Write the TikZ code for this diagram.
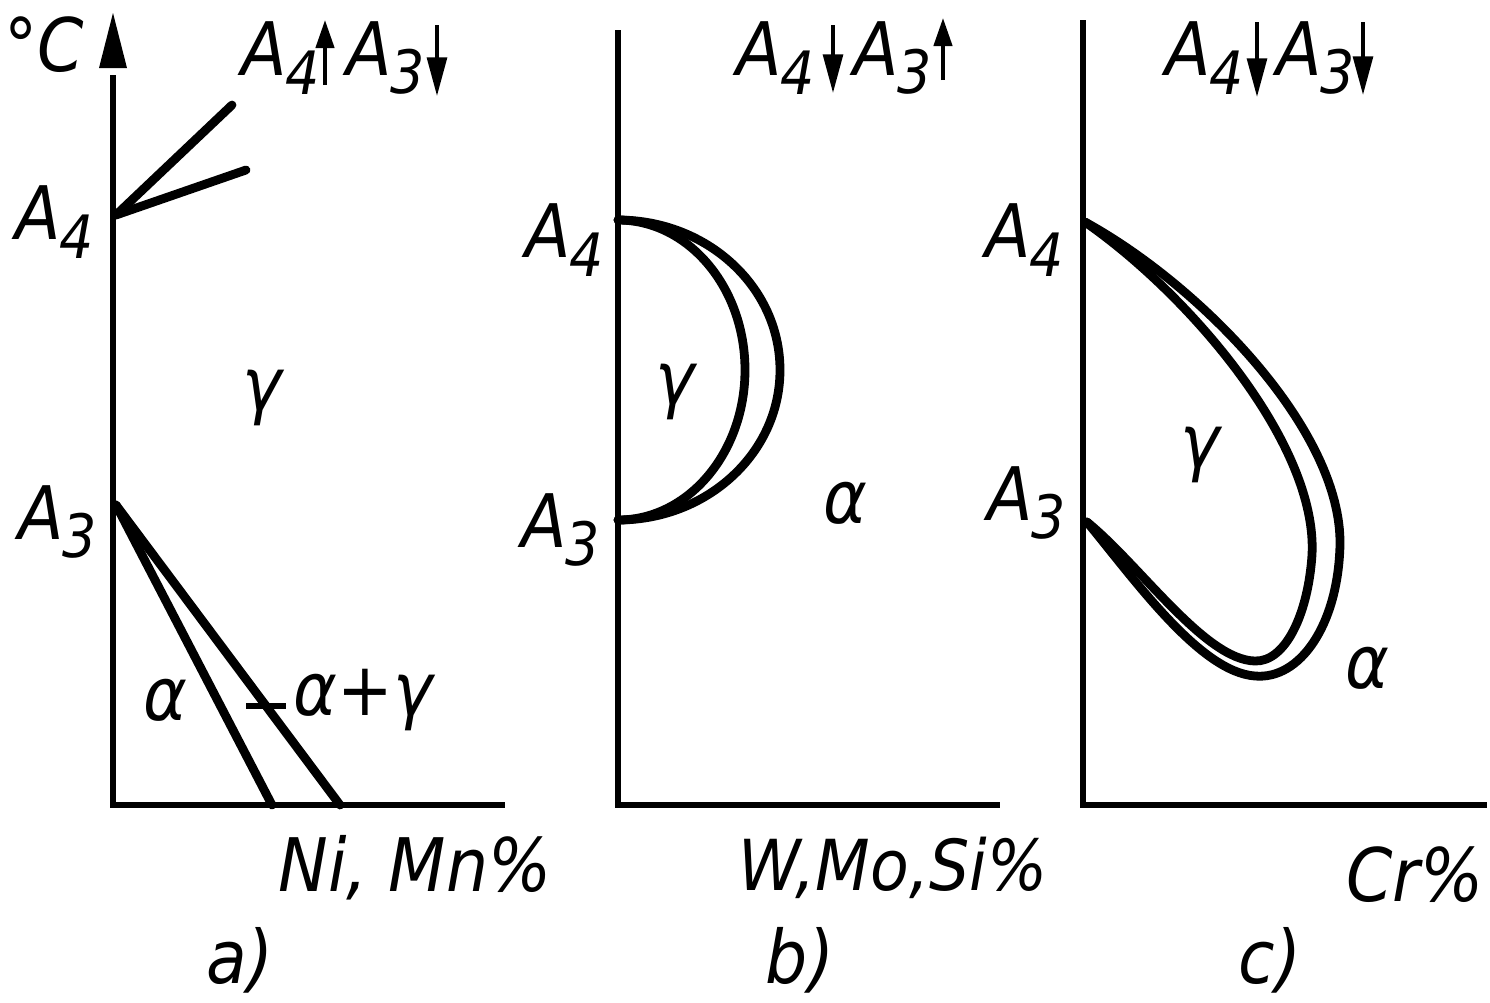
\documentclass[tikz,border=0pt]{standalone}
\usepackage{fontspec}
\setmainfont{DejaVu Sans Condensed}
\usetikzlibrary{arrows.meta}
\newcommand\Asb[1]{A\kern-0.02em\raisebox{-0.45ex}{\fontsize{17}{17}\selectfont #1}}
\begin{document}
\begin{tikzpicture}[x=0.01cm,y=-0.01cm,
  axis/.style={line width=1.8pt},
  phase/.style={line width=2.5pt, line cap=round, line join=round},
  lbl/.style={font=\fontsize{21}{24}\selectfont\itshape, inner sep=0pt},
  hdup/.style={line width=1.1pt, -{Triangle[length=8pt,width=5.2pt]}},
  hddn/.style={line width=1.1pt, -{Triangle[length=11pt,width=5.6pt]}}]
\useasboundingbox (0,0) rectangle (1490,1002);
% ---------------- panel a ----------------
\coordinate (aO) at (113,805);
\coordinate (aT) at (113,75);
\coordinate (aX) at (505,805);
\coordinate (aA4) at (116,215);
\coordinate (aA3) at (116,505);
\coordinate (aL1) at (232,105);
\coordinate (aL2) at (246,170);
\coordinate (aB1) at (272,805);
\coordinate (aB2) at (340,805);
\draw[axis] (aT) -- (aO) -- (aX);
\fill (99,68) -- (127,68) -- (113,13) -- cycle;
\draw[phase] (aA4) -- (aL1);
\draw[phase] (aA4) -- (aL2);
\draw[phase] (aA3) -- (aB1);
\draw[phase] (aA3) -- (aB2);
\node[lbl] (aC) at (44,45) {°C};
\node[lbl] (aH1) at (281,58) {\Asb{4}};
\draw[hdup] (325,85) -- (325,20);
\node[lbl] (aH2) at (386,58) {\Asb{3}};
\draw[hddn] (437,25) -- (437,96);
\node[lbl] (aYA4) at (55,222) {\Asb{4}};
\node[lbl] (aYA3) at (58,522) {\Asb{3}};
\node[lbl] (aG) at (262,398) {γ};
\node[lbl] (aAl) at (165,700) {α};
\node[lbl] (aAG) at (363,700) {α+γ};
\coordinate (aD1) at (246,706);
\coordinate (aD2) at (286,706);
\draw[line width=1.6pt] (aD1) -- (aD2);
\node[lbl] (aXl) at (415,868) {Ni, Mn\%};
\node[lbl] (aCap) at (240,960) {a)};
% ---------------- panel b ----------------
\coordinate (bO) at (618,805);
\coordinate (bT) at (618,30);
\coordinate (bX) at (1000,805);
\coordinate (bA4) at (618,220);
\coordinate (bA3) at (618,520);
\draw[axis] (bT) -- (bO) -- (bX);
\draw[phase] (bA4) arc[start angle=-90,end angle=90,x radius=127,y radius=150];
\draw[phase] (bA4) arc[start angle=-90,end angle=90,x radius=162,y radius=150];
\node[lbl] (bH1) at (776,58) {\Asb{4}};
\draw[hddn] (833,25) -- (833,93);
\node[lbl] (bH2) at (893,58) {\Asb{3}};
\draw[hdup] (943,80) -- (943,18);
\node[lbl] (bYA4) at (565,240) {\Asb{4}};
\node[lbl] (bYA3) at (561,530) {\Asb{3}};
\node[lbl] (bG) at (675,392) {γ};
\node[lbl] (bAl) at (845,503) {α};
\node[lbl] (bXl) at (893,868) {\fontsize{20}{24}\selectfont W,Mo,Si\%};
\node[lbl] (bCap) at (800,960) {b)};
% ---------------- panel c ----------------
\coordinate (cO) at (1083,805);
\coordinate (cT) at (1083,20);
\coordinate (cX) at (1487,805);
\coordinate (cA4) at (1085,222);
\coordinate (cA3) at (1087,522);
\draw[phase] (cA4) .. controls (1200,285) and (1342,430) .. (1340,545)
  .. controls (1338,625) and (1300,680) .. (1255,676)
  .. controls (1200,672) and (1135,580) .. (cA3);
\draw[phase] (cA4) .. controls (1190,295) and (1318,445) .. (1312,555)
  .. controls (1308,615) and (1285,662) .. (1255,661)
  .. controls (1205,660) and (1140,565) .. (cA3);
\draw[axis] (cT) -- (cO) -- (cX);
\node[lbl] (cH1) at (1205,58) {\Asb{4}};
\draw[hddn] (1257,22) -- (1257,97);
\node[lbl] (cH2) at (1316,58) {\Asb{3}};
\draw[hddn] (1363,22) -- (1363,95);
\node[lbl] (cYA4) at (1025,240) {\Asb{4}};
\node[lbl] (cYA3) at (1027,503) {\Asb{3}};
\node[lbl] (cG) at (1200,455) {γ};
\node[lbl] (cAl) at (1367,668) {α};
\node[lbl] (cXl) at (1415,875) {Cr\%};
\node[lbl] (cCap) at (1270,960) {c)};
\end{tikzpicture}
\end{document}
